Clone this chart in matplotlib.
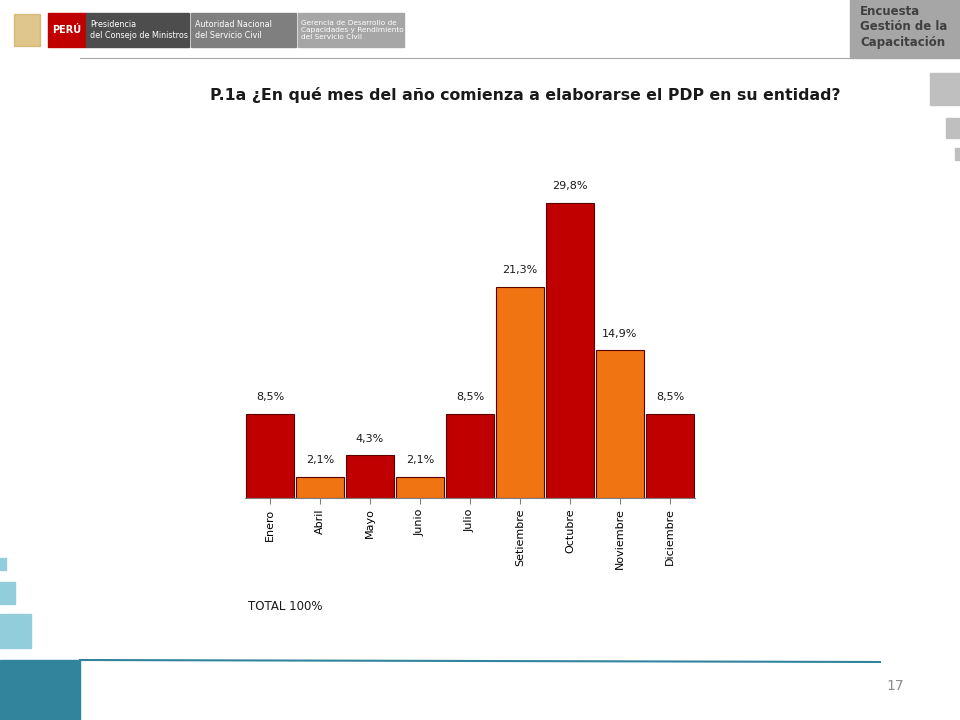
import matplotlib.pyplot as plt
from matplotlib.patches import Rectangle

months = ['Enero', 'Abril', 'Mayo', 'Junio', 'Julio', 'Setiembre', 'Octubre', 'Noviembre', 'Diciembre']
values = [8.5, 2.1, 4.3, 2.1, 8.5, 21.3, 29.8, 14.9, 8.5]
labels = ['8,5%', '2,1%', '4,3%', '2,1%', '8,5%', '21,3%', '29,8%', '14,9%', '8,5%']

red = '#C00000'
orange = '#F07412'
colors = [red if i % 2 == 0 else orange for i in range(len(months))]

fig = plt.figure(figsize=(9.6, 7.2), dpi=100)

# slide decorations in pixel coordinates
bg = fig.add_axes([0, 0, 1, 1])
bg.set_xlim(0, 960)
bg.set_ylim(720, 0)
bg.axis('off')
bg.add_patch(Rectangle((850, 0), 110, 58, color='#A6A6A6'))
bg.text(860, 5, 'Encuesta\nGestión de la\nCapacitación', fontsize=8.5, fontweight='bold',
        color='#404040', va='top', linespacing=1.25)
bg.add_patch(Rectangle((930, 73), 30, 32, color='#BFBFBF'))
bg.add_patch(Rectangle((946, 118), 14, 20, color='#BFBFBF'))
bg.add_patch(Rectangle((955, 148), 5, 12, color='#BFBFBF'))
bg.add_patch(Rectangle((0, 558), 6, 12, color='#92CDDC'))
bg.add_patch(Rectangle((0, 582), 15, 22, color='#92CDDC'))
bg.add_patch(Rectangle((0, 614), 31, 34, color='#92CDDC'))
bg.add_patch(Rectangle((0, 660), 80, 60, color='#31849B'))
bg.plot([80, 880], [660, 662], color='#31849B', lw=1.5)
bg.plot([80, 850], [58, 58], color='#A6A6A6', lw=0.8)
# logo blocks
bg.add_patch(Rectangle((48, 13), 38, 34, color='#C00000'))
bg.text(67, 30, 'PERÚ', color='white', fontsize=7, fontweight='bold', ha='center', va='center')
bg.add_patch(Rectangle((86, 13), 103, 34, color='#4D4D4D'))
bg.text(90, 30, 'Presidencia\ndel Consejo de Ministros', color='white', fontsize=5.8, va='center')
bg.add_patch(Rectangle((191, 13), 105, 34, color='#7F7F7F'))
bg.text(195, 30, 'Autoridad Nacional\ndel Servicio Civil', color='white', fontsize=5.8, va='center')
bg.add_patch(Rectangle((298, 13), 106, 34, color='#A6A6A6'))
bg.text(301, 30, 'Gerencia de Desarrollo de\nCapacidades y Rendimiento\ndel Servicio Civil',
        color='white', fontsize=5.3, va='center')
bg.add_patch(Rectangle((14, 14), 26, 32, color='#C8A040', alpha=0.6))
bg.text(525, 95, 'P.1a ¿En qué mes del año comienza a elaborarse el PDP en su entidad?',
        fontsize=11.3, fontweight='bold', ha='center', va='center', color='#1a1a1a')
bg.text(248, 607, 'TOTAL 100%', fontsize=8.5, va='center', color='#1a1a1a')
bg.text(895, 686, '17', fontsize=10, ha='center', va='center', color='#8C8C8C')

# bar chart
ax = fig.add_axes([245 / 960, 222 / 720, 450 / 960, 317 / 720])
x = range(len(months))
ax.bar(x, values, width=0.96, color=colors, edgecolor='#5a0000', linewidth=0.8)
for i, (v, lab) in enumerate(zip(values, labels)):
    ax.text(i, v + 1.2, lab, ha='center', va='bottom', fontsize=8, color='#1a1a1a')
ax.set_xlim(-0.5, len(months) - 0.5)
ax.set_ylim(0, 32)
ax.set_xticks(list(x))
ax.set_xticklabels(months, rotation=90, fontsize=8)
ax.tick_params(axis='x', length=4, color='#808080')
ax.set_yticks([])
for s in ['top', 'right', 'left']:
    ax.spines[s].set_visible(False)
ax.spines['bottom'].set_color('#808080')
ax.patch.set_alpha(0)

fig.savefig('out.png', dpi=100)
